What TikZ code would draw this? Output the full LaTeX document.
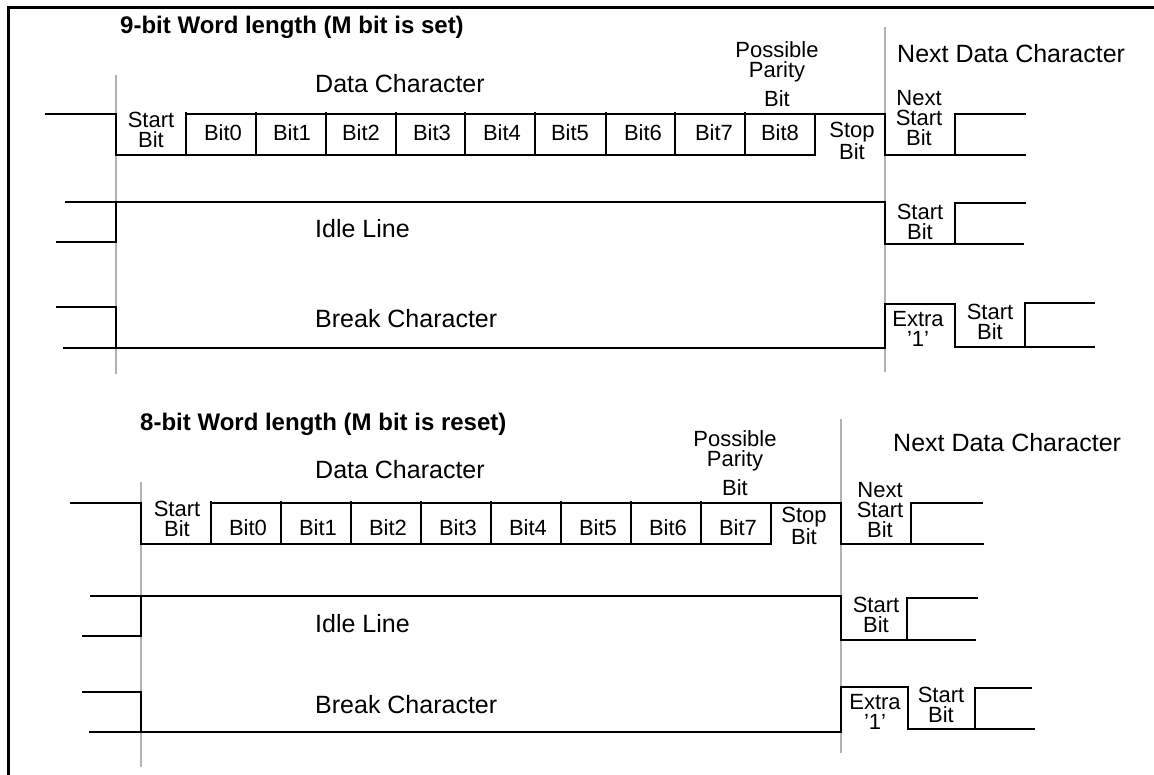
\documentclass[tikz,border=0pt]{standalone}
\usepackage{fontspec}
\setmainfont{Liberation Sans}
\usetikzlibrary{positioning}
\tikzset{
    wave/.style={
        line width=2pt,
        line join=miter
    },
    marker/.style={
        line width=1.6pt,
        draw=black!30
    },
    frame/.style={line width=3pt},
    biglabel/.style={
        inner sep=0pt,
        anchor=base west,
        font=\fontsize{25}{28}\selectfont
    },
    bitlabel/.style={
        inner sep=0pt,
        anchor=base,
        font=\fontsize{22}{20}\selectfont
    },
    multilabel/.style={
        inner sep=0pt,
        anchor=north,
        align=center,
        font=\fontsize{22}{20}\selectfont
    },
    heading/.style={
        inner sep=0pt,
        anchor=base west,
        font=\fontsize{24}{28}\selectfont\bfseries
    }
}

\begin{document}
\begin{tikzpicture}[x=1pt, y=-1pt]
    \useasboundingbox (0,0) rectangle (1154,775);
    \draw[frame] (8,775) -- (8,8) -- (1154,8);

    % 9-bit word
    \node[heading] (h1) at (120,34) {9-bit Word length (M bit is set)};
    \draw[marker] (116,75) -- (116,374);
    \draw[marker] (885,27) -- (885,372);

    \draw[wave] (45,114) -- (116,114) -- (116,155) -- (815,155) -- (815,114);
    \draw[wave] (186,155) -- (186,112);
    \draw[wave] (186,114) -- (885,114) -- (885,155) -- (1026,155);
    \draw[wave] (256,112) -- (256,155) (326,112) -- (326,155)
        (396,112) -- (396,155) (465,112) -- (465,155)
        (535,112) -- (535,155) (606,112) -- (606,155)
        (675,112) -- (675,155) (745,112) -- (745,155);
    \draw[wave] (955,155) -- (955,114) -- (1026,114);

    \draw[wave] (65,202) -- (885,202) -- (885,244) -- (1024,244);
    \draw[wave] (56,242) -- (116,242) -- (116,202);
    \draw[wave] (955,244) -- (955,203) -- (1026,203);

    \draw[wave] (56,307) -- (116,307) -- (116,348);
    \draw[wave] (63,348) -- (885,348) -- (885,304) -- (955,304)
        -- (955,347) -- (1095,347);
    \draw[wave] (1025,347) -- (1025,303) -- (1095,303);

    \node[biglabel] (d1) at (315,93) {Data Character};
    \node[multilabel] (p1) at (777,41) {Possible\\Parity\\[8pt]Bit};
    \node[biglabel] (n1) at (897,63) {Next Data Character};
    \node[multilabel] (st1) at (151,112) {Start\\Bit};
    \node[bitlabel] (a0) at (223,141) {Bit0};
    \node[bitlabel] (a1) at (292,141) {Bit1};
    \node[bitlabel] (a2) at (361,141) {Bit2};
    \node[bitlabel] (a3) at (432,141) {Bit3};
    \node[bitlabel] (a4) at (502,141) {Bit4};
    \node[bitlabel] (a5) at (570,141) {Bit5};
    \node[bitlabel] (a6) at (643,141) {Bit6};
    \node[bitlabel] (a7) at (714,141) {Bit7};
    \node[bitlabel] (a8) at (780,141) {Bit8};
    \node[multilabel] (sp1) at (852,122) {Stop\\Bit};
    \node[multilabel] (ns1) at (919,90) {Next\\Start\\Bit};
    \node[biglabel] (i1) at (315,238) {Idle Line};
    \node[multilabel] (is1) at (920,204) {Start\\Bit};
    \node[biglabel] (k1) at (315,328) {Break Character};
    \node[multilabel] (x1) at (918,311) {Extra\\’1’};
    \node[multilabel] (ks1) at (990,304) {Start\\Bit};

    % 8-bit word
    \node[heading] (h2) at (140,431) {8-bit Word length (M bit is reset)};
    \draw[marker] (141,482) -- (141,767);
    \draw[marker] (841,419) -- (841,753);

    \draw[wave] (70,503) -- (141,503) -- (141,544) -- (771,544) -- (771,503);
    \draw[wave] (211,544) -- (211,501);
    \draw[wave] (211,503) -- (841,503) -- (841,544) -- (984,544);
    \draw[wave] (281,501) -- (281,544) (351,501) -- (351,544)
        (421,501) -- (421,544) (491,501) -- (491,544)
        (561,501) -- (561,544) (631,501) -- (631,544)
        (701,501) -- (701,544);
    \draw[wave] (911,544) -- (911,503) -- (983,503);

    \draw[wave] (90,596) -- (841,596) -- (841,640) -- (976,640);
    \draw[wave] (82,636) -- (141,636) -- (141,596);
    \draw[wave] (907,640) -- (907,598) -- (978,598);

    \draw[wave] (82,692) -- (141,692) -- (141,732);
    \draw[wave] (89,732) -- (841,732) -- (841,687) -- (908,687)
        -- (908,729) -- (1035,729);
    \draw[wave] (975,729) -- (975,688) -- (1032,688);

    \node[biglabel] (d2) at (315,478) {Data Character};
    \node[multilabel] (p2) at (735,430) {Possible\\Parity\\[8pt]Bit};
    \node[biglabel] (n2) at (893,451) {Next Data Character};
    \node[multilabel] (st2) at (177,501) {Start\\Bit};
    \node[bitlabel] (c0) at (248,535) {Bit0};
    \node[bitlabel] (c1) at (318,535) {Bit1};
    \node[bitlabel] (c2) at (388,535) {Bit2};
    \node[bitlabel] (c3) at (458,535) {Bit3};
    \node[bitlabel] (c4) at (528,535) {Bit4};
    \node[bitlabel] (c5) at (598,535) {Bit5};
    \node[bitlabel] (c6) at (668,535) {Bit6};
    \node[bitlabel] (c7) at (738,535) {Bit7};
    \node[multilabel] (sp2) at (804,507) {Stop\\Bit};
    \node[multilabel] (ns2) at (880,482) {Next\\Start\\Bit};
    \node[biglabel] (i2) at (315,632) {Idle Line};
    \node[multilabel] (is2) at (876,597) {Start\\Bit};
    \node[biglabel] (k2) at (315,713) {Break Character};
    \node[multilabel] (x2) at (875,694) {Extra\\’1’};
    \node[multilabel] (ks2) at (941,687) {Start\\Bit};
\end{tikzpicture}
\end{document}
